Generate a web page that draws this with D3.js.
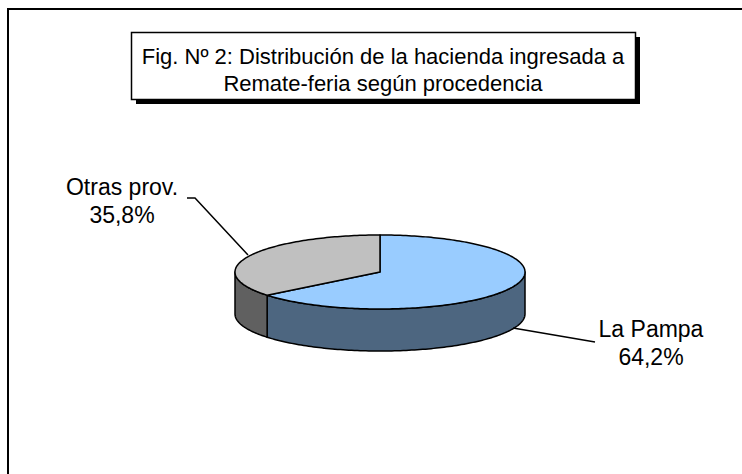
<!DOCTYPE html>
<html lang="es">
<head>
<meta charset="utf-8">
<title>Fig. 2</title>
<script src="https://d3js.org/d3.v7.min.js"></script>
<style>
  body { margin: 0; background: #fff; }
  svg text { font-family: "Liberation Sans", Arial, sans-serif; fill: #000; }
</style>
</head>
<body>
<svg id="chart" width="742" height="474"></svg>
<script>
// data
var categories = ["La Pampa", "Otras prov."];
var shares = [64.2, 35.8];
var shareLabels = ["64,2%", "35,8%"];
var topColors = ["#99ccff", "#c0c0c0"];
var sideColors = ["#4d6680", "#606060"];
var titleLines = ["Fig. N\u00ba 2: Distribuci\u00f3n de la hacienda ingresada a", "Remate-feria seg\u00fan procedencia"];

var svg = d3.select("#chart");

// outer frame (cut off on the right and at the bottom)
svg.append("path")
    .attr("d", "M8,474V9H742")
    .attr("fill", "none")
    .attr("stroke", "#000")
    .attr("stroke-width", 2);

// title box with shadow
var box = {x: 131, y: 32, w: 504, h: 67};
svg.append("rect")
    .attr("x", box.x + 5).attr("y", box.y + 5)
    .attr("width", box.w).attr("height", box.h)
    .attr("fill", "#000");
svg.append("rect")
    .attr("x", box.x + 0.5).attr("y", box.y + 0.5)
    .attr("width", box.w).attr("height", box.h)
    .attr("fill", "#fff")
    .attr("stroke", "#000")
    .attr("stroke-width", 1.5);
svg.append("g").selectAll("text")
    .data(titleLines)
  .enter().append("text")
    .attr("x", box.x + box.w / 2)
    .attr("y", (d, i) => 64 + i * 27)
    .attr("text-anchor", "middle")
    .style("font-size", "22px")
    .text(d => d);

// 3D pie
var cx = 380, cy = 272, rx = 145, ry = 37, depth = 42;

var pie = d3.pie().sort(null).value(d => d.value);
var arcs = pie(categories.map((c, i) => ({name: c, value: shares[i], i: i})));

function pt(a, dy) {
  return [cx + rx * Math.sin(a), cy - ry * Math.cos(a) + (dy || 0)];
}
function arcPoints(a0, a1, dy) {
  var n = Math.max(2, Math.ceil(Math.abs(a1 - a0) / 0.02));
  return d3.range(n + 1).map(k => pt(a0 + (a1 - a0) * k / n, dy));
}
var line = d3.line();

var g = svg.append("g");

// visible sides: front half, between PI/2 and 3PI/2
arcs.forEach(function(d) {
  var a0 = Math.max(d.startAngle, Math.PI / 2),
      a1 = Math.min(d.endAngle, 3 * Math.PI / 2);
  if (a1 <= a0) return;
  var top = arcPoints(a0, a1, 0),
      bottom = arcPoints(a1, a0, depth);
  g.append("path")
      .attr("d", line(top.concat(bottom)) + "Z")
      .attr("fill", sideColors[d.data.i])
      .attr("stroke", "#000")
      .attr("stroke-width", 1.5)
      .attr("stroke-linejoin", "round");
});

// top faces
arcs.forEach(function(d) {
  var pts = [[cx, cy]].concat(arcPoints(d.startAngle, d.endAngle, 0));
  g.append("path")
      .attr("d", line(pts) + "Z")
      .attr("fill", topColors[d.data.i])
      .attr("stroke", "#000")
      .attr("stroke-width", 1.5)
      .attr("stroke-linejoin", "round");
});

// labels with leader lines
var labels = [
  {i: 0, x: 651, y: 337, leader: [[513, 328], [595, 342]]},
  {i: 1, x: 122, y: 195, leader: [[248, 255], [195, 198], [187, 198]]}
];
labels.forEach(function(l) {
  g.append("path")
      .attr("d", line(l.leader))
      .attr("fill", "none")
      .attr("stroke", "#000")
      .attr("stroke-width", 1.5);
  var t = g.append("text")
      .attr("text-anchor", "middle")
      .style("font-size", "23px");
  t.append("tspan").attr("x", l.x).attr("y", l.y).text(categories[l.i]);
  t.append("tspan").attr("x", l.x).attr("y", l.y + 28).text(shareLabels[l.i]);
});
</script>
</body>
</html>
